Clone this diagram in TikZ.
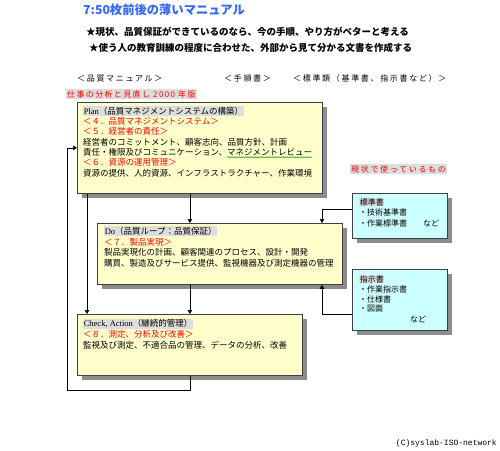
\documentclass[tikz,border=0pt]{standalone}
\usepackage{fontspec}
\setmainfont{Noto Sans CJK JP}
\newfontfamily\jpsp[LetterSpace=17]{Noto Sans CJK JP}
\newfontfamily\jpspw[LetterSpace=21]{Noto Sans CJK JP}
\newfontfamily\latser{Liberation Serif}
\newfontfamily\latmono{Liberation Mono}
\usetikzlibrary{arrows.meta,shadows,decorations.pathmorphing}

\definecolor{planyel}{HTML}{FFFFCC}
\definecolor{stdcyan}{HTML}{CCFFFF}
\definecolor{titleblue}{HTML}{3366FF}
\definecolor{hlgray}{HTML}{DDDDDD}

\newcommand{\hl}[1]{{\setlength{\fboxsep}{0.6pt}\colorbox{hlgray}{#1}}}

\begin{document}
\begin{tikzpicture}[
    x=1pt, y=-1pt,
    box/.style={draw=black!75, line width=0.8pt, anchor=north west,
        inner sep=0pt,
        drop shadow={shadow xshift=5pt, shadow yshift=-5pt,
            fill=black!45, opacity=1}},
    planbox/.style={box, fill=planyel},
    docbox/.style={box, fill=stdcyan},
    line/.style={anchor=west, inner sep=0pt,
        font=\fontsize{8.5}{10}\selectfont},
    small/.style={anchor=west, inner sep=0pt,
        font=\fontsize{8}{10}\selectfont},
    head/.style={anchor=west, inner sep=0pt,
        font=\jpspw\fontsize{8}{10}\selectfont},
    tag/.style={anchor=west, inner sep=1pt, fill=hlgray, text=red,
        font=\jpsp\fontsize{8}{10}\selectfont},
    arr/.style={-{Triangle[length=4pt,width=4.5pt]}, line width=0.7pt}
]

\useasboundingbox (0,0) rectangle (500,450);

% ============================================================
% Titel und Leitsaetze
% ============================================================

\node[anchor=west, inner sep=0pt, text=titleblue,
    font=\bfseries\fontsize{12.3}{13}\selectfont] (title) at (83,10)
    {7:50枚前後の薄いマニュアル};

\node[anchor=west, inner sep=0pt,
    font=\bfseries\fontsize{9.5}{11}\selectfont] (lead1) at (86,32)
    {★現状、品質保証ができているのなら、今の手順、やり方がベターと考える};

\node[anchor=west, inner sep=0pt,
    font=\bfseries\fontsize{9.5}{11}\selectfont] (lead2) at (89,48)
    {★使う人の教育訓練の程度に合わせた、外部から見て分かる文書を作成する};

% ============================================================
% Spaltenkoepfe
% ============================================================

\node[head] (hqm) at (77,78) {＜品質マニュアル＞};
\node[head] (hproc) at (224,78) {＜手順書＞};
\node[head] (hstd) at (293,78) {＜標準類（基準書、指示書など）＞};

\node[tag] (rev) at (66,94) {仕事の分析と見直し 2000 年版};
\node[tag, font=\jpspw\fontsize{8}{10}\selectfont] (cur) at (350,169)
    {現状で使っているもの};

% ============================================================
% Kaesten
% ============================================================

\node[planbox, minimum width=245pt, minimum height=91pt] (plan) at (77,102) {};
\node[planbox, minimum width=245pt, minimum height=61pt] (do) at (97,223) {};
\node[planbox, minimum width=225pt, minimum height=61pt] (check) at (77,314) {};
\node[docbox, minimum width=95pt, minimum height=45pt] (std) at (352,193) {};
\node[docbox, minimum width=95pt, minimum height=61pt] (inst) at (352,269) {};

% ============================================================
% Plan
% ============================================================

\node[line] (p1) at (83,111)
    {\hl{{\latser Plan}（品質マネジメントシステムの構築）}};
\node[line, text=red] (p2) at (83,121.5) {＜４．品質マネジメントシステム＞};
\node[line, text=red] (p3) at (83,131.5) {＜５．経営者の責任＞};
\node[line] (p4) at (83,142) {経営者のコミットメント、顧客志向、品質方針、計画};
\node[line] (p5) at (83,152) {責任・権限及びコミュニケーション、マネジメントレビュー};
\node[line, text=red] (p6) at (83,162.5) {＜６．資源の運用管理＞};
\node[line] (p7) at (83,173) {資源の提供、人的資源、インフラストラクチャー、作業環境};

\draw[green!60!black, line width=0.4pt, decorate,
    decoration={snake, amplitude=0.5pt, segment length=2pt}]
    ([xshift=-85pt,yshift=-1pt]p5.south east) -- ([yshift=-1pt]p5.south east);

% ============================================================
% Do
% ============================================================

\node[line] (d1) at (104,231)
    {\hl{{\latser Do}（品質ループ：品質保証）}};
\node[line, text=red] (d2) at (104,242) {＜７．製品実現＞};
\node[line] (d3) at (104,252) {製品実現化の計画、顧客関連のプロセス、設計・開発};
\node[line] (d4) at (104,263) {購買、製造及びサービス提供、監視機器及び測定機器の管理};

% ============================================================
% Check, Action
% ============================================================

\node[line] (c1) at (83,324)
    {\hl{{\latser Check, Action}（継続的管理）}};
\node[line, text=red] (c2) at (83,334.5) {＜８．測定、分析及び改善＞};
\node[line] (c3) at (83,345) {監視及び測定、不適合品の管理、データの分析、改善};

% ============================================================
% Standards
% ============================================================

\node[small] (s1) at (359,202) {\hl{標準書}};
\node[small] (s2) at (359,212.5) {・技術基準書};
\node[small] (s3) at (359,223) {・作業標準書　　など};

\node[small] (i1) at (359,279) {\hl{指示書}};
\node[small] (i2) at (359,289) {・作業指示書};
\node[small] (i3) at (359,299) {・仕様書};
\node[small] (i4) at (359,309) {・図面};
\node[small] (i5) at (410,319) {など};

% ============================================================
% Verbindungen
% ============================================================

\coordinate (colA) at (87,0);
\coordinate (colR) at (322,0);
\coordinate (loop) at (67,390);

\draw[arr] (plan.south -| check.north) -- (do.north -| check.north);
\draw[arr] (plan.south -| colA) -- (check.north -| colA);
\draw[arr] (do.south -| check.north) -- (check.north);
\draw[arr] (check.south) |- (loop) |- (plan.west);
\draw[arr] ([yshift=7pt]std.west) -| (do.north -| colR);
\draw[arr] ([yshift=-14.5pt]inst.west) -| (do.south -| colR);

% ============================================================
% Copyright
% ============================================================

\node[anchor=east, inner sep=0pt, font=\latmono\fontsize{8}{10}\selectfont]
    (copy) at (497,443) {(C)syslab-ISO-network};

\end{tikzpicture}
\end{document}
